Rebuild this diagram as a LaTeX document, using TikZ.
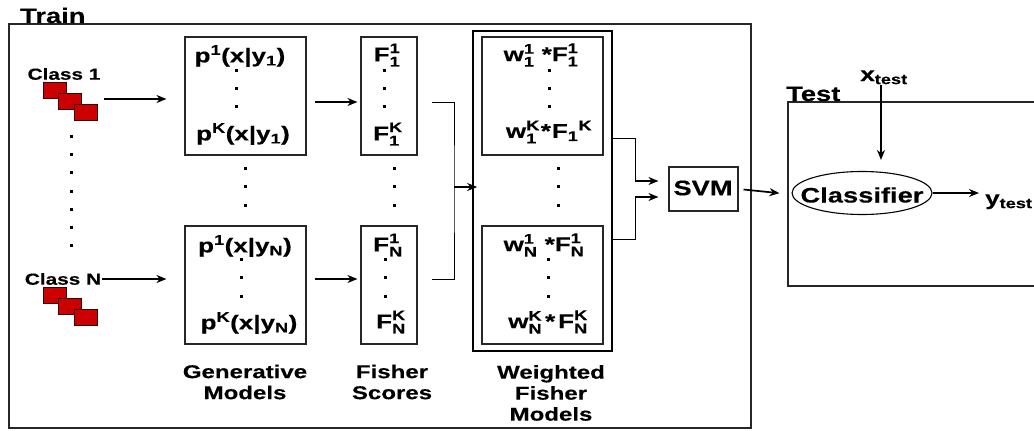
\documentclass[tikz,border=0pt]{standalone}
\usepackage{amsmath}
\usepackage{fontspec}
\setmainfont[FakeStretch=1.3,FakeBold=0.3]{Liberation Sans}
\usetikzlibrary{arrows.meta}
\usetikzlibrary{positioning}
\usetikzlibrary{shapes.geometric}
\newcommand{\supsub}[3]{$\text{#1}^{\text{#2}}_{\text{#3}}$}
\newcommand{\subthensup}[3]{$\text{#1}_{\text{#3}}{}^{\text{#2}}$}

\begin{document}
\begin{tikzpicture}[x=1pt,y=-1pt,>={Stealth[length=10pt,width=8pt]},
    panel/.style={draw=black!85,line width=1.1pt,minimum width=#1,inner sep=0pt},
    sheet/.style={draw=black!80!red,fill=red!80!black,line width=1pt,minimum width=23pt,minimum height=16pt,inner sep=0pt},
    spot/.style={fill=black,minimum size=3pt,inner sep=0pt},
    formula/.style={font=\bfseries\fontsize{20}{22}\selectfont,inner sep=0pt},
    small/.style={font=\bfseries\fontsize{16}{18}\selectfont,inner sep=0pt},
    title/.style={font=\bfseries\fontsize{21}{24}\selectfont,inner sep=0pt},
    caption/.style={font=\bfseries\fontsize{18.5}{21}\selectfont,align=center,inner sep=0pt},
    flow/.style={->,line width=1.7pt},
    wire/.style={line width=0.9pt}]
    \clip (0,0) rectangle (1034,431);
    \fill[white] (0,0) rectangle (1034,431);

    \node[panel=742pt,minimum height=404pt] (train) at (380,226) {};
    \node[panel=252pt,minimum height=184pt] (test) at (914,194) {};
    \node[title,anchor=base west] (trainlabel) at (20,23) {Train};
    \node[title,anchor=base west] (testlabel) at (786,101) {Test};

    \node[small] (class1) at (64,74) {Class 1};
    \node[small] (classN) at (63,279) {Class N};
    \node[sheet] (sheetA1) at (54.5,90.5) {};
    \node[sheet] (sheetA2) at (70,101) {};
    \node[sheet] (sheetA3) at (85.5,112) {};
    \node[sheet] (sheetB1) at (54.5,295) {};
    \node[sheet] (sheetB2) at (70,306) {};
    \node[sheet] (sheetB3) at (85.5,317) {};
    \foreach \y in {136,154,172,191,209,227,245}
        \node[spot] (classdot\y) at (71,\y) {};

    \node[panel=121pt,minimum height=118pt] (p1) at (245.5,96) {};
    \node[panel=121pt,minimum height=118pt] (p2) at (245.5,285) {};
    \node[formula] (p1top) at (240,56) {p\textsuperscript{1}(x|y\textsubscript{1})};
    \node[formula] (p1bot) at (243,134) {p\textsuperscript{K}(x|y\textsubscript{1})};
    \node[formula] (p2top) at (245,246) {p\textsuperscript{1}(x|y\textsubscript{N})};
    \node[formula] (p2bot) at (249,323) {p\textsuperscript{K}(x|y\textsubscript{N})};

    \node[panel=56pt,minimum height=118pt] (f1) at (389,96) {};
    \node[panel=56pt,minimum height=118pt] (f2) at (389,285) {};
    \node[formula] (f1top) at (387,55) {\supsub{F}{1}{1}};
    \node[formula] (f1bot) at (388,134) {\supsub{F}{K}{1}};
    \node[formula] (f2top) at (388,245) {\supsub{F}{1}{N}};
    \node[formula] (f2bot) at (391,322) {\supsub{F}{K}{N}};

    \node[panel=139pt,minimum height=320pt,line width=1.7pt,draw=black] (weighted) at (542.5,191) {};
    \node[panel=121pt,minimum height=118pt] (w1) at (542.5,96) {};
    \node[panel=121pt,minimum height=118pt] (w2) at (542.5,285) {};
    \node[formula] (w1top) at (541,55) {\supsub{w}{1}{1} *\supsub{F}{1}{1}};
    \node[formula] (w1bot) at (549,132) {\supsub{w}{K}{1}\kern1pt*\kern1pt\subthensup{F}{K}{1}};
    \node[formula] (w2top) at (544,245) {\supsub{w}{1}{N} *\supsub{F}{1}{N}};
    \node[formula] (w2bot) at (548,322) {\supsub{w}{K}{N}\kern3pt*\kern3pt\supsub{F}{K}{N}};

    \foreach \x/\a/\b/\c in {236/70/88/106,241/259/277/296,245/168/186/205,384/70/88/106,385/259/277/296,394/168/186/205,549/70/88/106,548/259/277/296,558/168/186/205}
        \foreach \y in {\a,\b,\c}
            \node[spot] (dot\x\y) at (\x,\y) {};

    \node[caption] (genlabel) at (245,382) {Generative\\Models};
    \node[caption] (fishlabel) at (392,382) {Fisher\\Scores};
    \node[caption] (weightlabel) at (551,393) {Weighted\\Fisher\\Models};

    \node[panel=69pt,minimum height=44pt] (svm) at (703.5,189) {};
    \node[title] (svmlabel) at (703,188) {SVM};
    \node[draw=black,line width=1.1pt,ellipse,minimum width=140pt,minimum height=43pt,inner sep=0pt] (classifier) at (862,193) {};
    \node[title] (classifierlabel) at (862,195) {Classifier};
    \node[formula,anchor=base] (xtest) at (884,81) {x\textsubscript{test}};
    \node[formula,anchor=base west] (ytest) at (985,205) {y\textsubscript{test}};

    \coordinate (merge) at (454,187);
    \coordinate (joinup) at (635,181);
    \coordinate (joindown) at (635,197);
    \coordinate (xin) at (881,85);

    \draw[flow,shorten <=22pt,shorten >=18pt] ([yshift=2pt]sheetA2.east) -- ([yshift=2pt]sheetA2 -| p1.west);
    \draw[flow,shorten <=1pt,shorten >=18pt] (classN.east) -- (classN -| p2.west);
    \draw[flow,shorten <=8pt,shorten >=3pt] ([yshift=-6pt]p1.east) -- ([yshift=-6pt]f1.west);
    \draw[flow,shorten <=8pt,shorten >=3pt] ([yshift=6pt]p2.east) -- ([yshift=6pt]f2.west);
    \draw[wire] ([xshift=14pt,yshift=-6pt]f1.east) -| (merge) |- ([xshift=14pt,yshift=6pt]f2.east);
    \draw[flow] (merge) -- ([xshift=5pt]merge -| weighted.west);
    \draw[wire] ([yshift=53pt]weighted.east) -| (joinup);
    \draw[wire] ([yshift=-48pt]weighted.east) -| (joindown);
    \draw[flow,shorten >=10pt] (joinup) -- (joinup -| svm.west);
    \draw[flow,shorten >=10pt] (joindown) -- (joindown -| svm.west);
    \draw[flow,shorten <=5pt,shorten >=8pt] (svm.east) -- (test.west);
    \draw[flow,shorten >=11pt] (xin) -- (xin |- classifier.north);
    \draw[flow,shorten >=6pt] (classifier.east) -- (classifier.east -| ytest.west);
\end{tikzpicture}
\end{document}
